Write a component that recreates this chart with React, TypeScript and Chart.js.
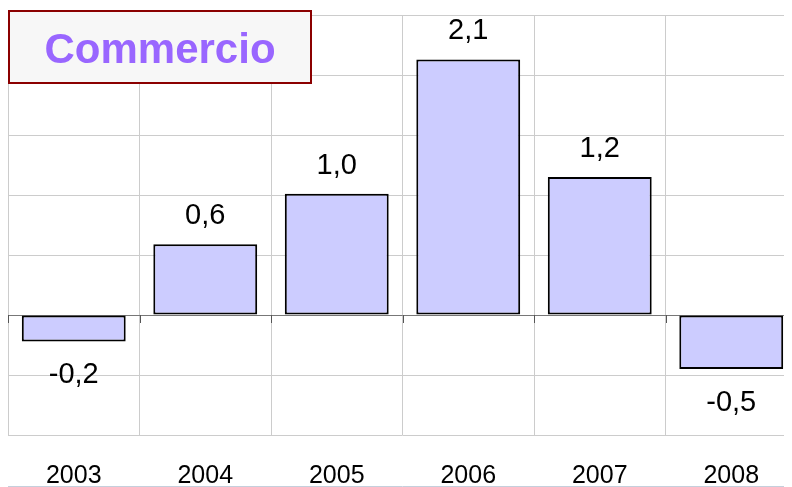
import React, { useEffect, useRef } from "react";
import { Chart, registerables } from "chart.js";

Chart.register(...registerables);

const categories = ["2003", "2004", "2005", "2006", "2007", "2008"];
const values = [-0.22, 0.59, 1.01, 2.13, 1.15, -0.45];
const valueLabels = ["-0,2", "0,6", "1,0", "2,1", "1,2", "-0,5"];
const chartTitle = "Commercio";

const FONT = "'Liberation Sans', Arial, sans-serif";

const overlayPlugin = {
  id: "overlay",
  afterDatasetsDraw(chart: any) {
    const ctx = chart.ctx;
    const meta = chart.getDatasetMeta(0);
    const xScale = chart.scales.x;
    const yScale = chart.scales.y;
    const zeroY = yScale.getPixelForValue(0);
    const step = xScale.getPixelForValue(1) - xScale.getPixelForValue(0);
    ctx.save();
    // tick marks at category boundaries on the zero line
    ctx.strokeStyle = "#555555";
    ctx.lineWidth = 1;
    for (let i = 0; i <= categories.length; i++) {
      let x = xScale.getPixelForValue(0) - step / 2 + i * step;
      x = Math.round(x) + 0.5;
      ctx.beginPath();
      ctx.moveTo(x, zeroY);
      ctx.lineTo(x, zeroY + 8);
      ctx.stroke();
    }
    // value labels
    ctx.fillStyle = "#000000";
    ctx.font = `29px ${FONT}`;
    ctx.textAlign = "center";
    ctx.textBaseline = "alphabetic";
    meta.data.forEach((bar: any, i: number) => {
      const v = values[i];
      const y = v >= 0 ? bar.y - 20 : bar.y + 42;
      ctx.fillText(valueLabels[i], bar.x, y);
    });
    ctx.restore();
  },
  afterDraw(chart: any) {
    const ctx = chart.ctx;
    ctx.save();
    // title box
    const bx = 1, by = 3, bw = 302, bh = 72;
    ctx.fillStyle = "#f7f7f7";
    ctx.fillRect(bx, by, bw, bh);
    ctx.strokeStyle = "#8b0000";
    ctx.lineWidth = 2;
    ctx.strokeRect(bx, by, bw, bh);
    ctx.fillStyle = "#9966ff";
    ctx.font = `bold 42px ${FONT}`;
    ctx.textAlign = "center";
    ctx.textBaseline = "alphabetic";
    ctx.fillText(chartTitle, bx + bw / 2, 55);
    // bottom line
    ctx.strokeStyle = "#c5cfdc";
    ctx.lineWidth = 1;
    ctx.beginPath();
    ctx.moveTo(0, 478.5);
    ctx.lineTo(chart.width, 478.5);
    ctx.stroke();
    ctx.restore();
  },
};

export default function App() {
  const canvasRef = useRef<HTMLCanvasElement | null>(null);

  useEffect(() => {
    document.documentElement.style.overflow = "hidden";
    document.body.style.overflow = "hidden";
    const canvas = canvasRef.current;
    if (!canvas) return;
    const chart = new Chart(canvas, {
      type: "bar",
      data: {
        labels: categories,
        datasets: [
          {
            data: values,
            backgroundColor: "#ccccff",
            borderColor: "#000000",
            borderWidth: 2,
            borderSkipped: false,
            categoryPercentage: 1,
            barPercentage: 0.79,
          },
        ],
      },
      options: {
        animation: false,
        responsive: false,
        maintainAspectRatio: false,
        layout: { padding: { top: 7, left: 0, right: 0, bottom: 0 } },
        plugins: {
          legend: { display: false },
          tooltip: { enabled: false },
          title: { display: false },
        },
        scales: {
          x: {
            grid: { color: "#cccccc", lineWidth: 1, drawTicks: false, offset: true },
            border: { display: false },
            ticks: {
              color: "#000000",
              font: { family: FONT, size: 25 },
              padding: 26,
              maxRotation: 0,
            },
            afterFit: (scale: any) => {
              scale.height = 52;
            },
          },
          y: {
            min: -1,
            max: 2.5,
            ticks: { display: false, stepSize: 0.5 },
            border: { display: false },
            grid: {
              drawTicks: false,
              color: (ctx: any) => (ctx.tick && ctx.tick.value === 0 ? "#777777" : "#cccccc"),
              lineWidth: 1,
            },
            afterFit: (scale: any) => {
              scale.width = 0;
            },
          },
        },
      },
      plugins: [overlayPlugin],
    });
    return () => chart.destroy();
  }, []);

  return (
    <div style={{ width: 784, height: 479, overflow: "hidden", position: "relative" }}>
      <canvas ref={canvasRef} width={789} height={479} style={{ width: 789, height: 479, display: "block" }} />
    </div>
  );
}
